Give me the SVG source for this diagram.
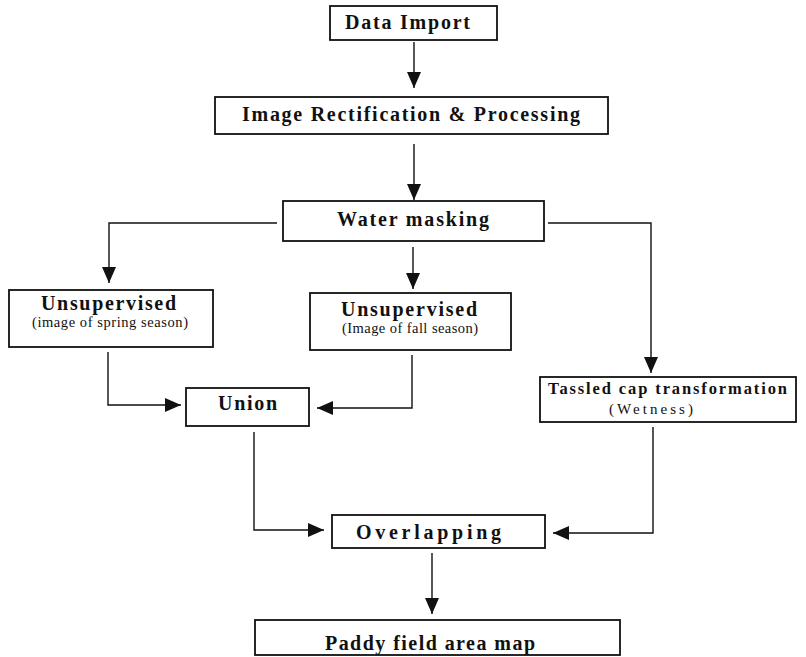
<svg xmlns="http://www.w3.org/2000/svg" width="806" height="657" viewBox="0 0 806 657">
  <style>
    .box { fill: #ffffff; stroke: #111111; stroke-width: 1.8; }
    .lbl { font-family: "Liberation Serif", "Times New Roman", serif; font-weight: bold; font-size: 20px; fill: #111111; }
    .sub { font-family: "Liberation Serif", "Times New Roman", serif; font-size: 14.5px; fill: #111111; }
    .link { fill: none; stroke: #111111; stroke-width: 1.4; marker-end: url(#head); }
  </style>
  <defs>
    <marker id="head" markerUnits="userSpaceOnUse" markerWidth="17" markerHeight="14" refX="16" refY="7" orient="auto">
      <path d="M0,0 L16,7 L0,14 z" fill="#111111"/>
    </marker>
  </defs>
  <rect width="806" height="657" fill="#ffffff"/>

  <g id="connectors">
    <path class="link" d="M414,42 V88"/>
    <path class="link" d="M414,144 V200"/>
    <path class="link" d="M277,223 H109 V283"/>
    <path class="link" d="M413,247 V289"/>
    <path class="link" d="M548,223 H651 V373"/>
    <path class="link" d="M108,352 V405 H181"/>
    <path class="link" d="M412,355 V408 H317"/>
    <path class="link" d="M254,432 V530 H324"/>
    <path class="link" d="M653,427 V533 H553"/>
    <path class="link" d="M432,553 V614"/>
  </g>

  <g id="data-import">
    <rect class="box" x="330" y="6" width="167" height="34"/>
    <text class="lbl" x="345" y="29" textLength="125" lengthAdjust="spacing">Data Import</text>
  </g>

  <g id="rectification">
    <rect class="box" x="215" y="97" width="393" height="37"/>
    <text class="lbl" x="242" y="121" textLength="338" lengthAdjust="spacing">Image Rectification &amp; Processing</text>
  </g>

  <g id="water-masking">
    <rect class="box" x="283" y="201" width="261" height="40"/>
    <text class="lbl" x="337" y="226" textLength="152" lengthAdjust="spacing">Water masking</text>
  </g>

  <g id="unsupervised-spring">
    <rect class="box" x="9" y="290" width="204" height="57"/>
    <text class="lbl" x="41" y="310" textLength="135" lengthAdjust="spacing">Unsupervised</text>
    <text class="sub" x="32" y="327" textLength="156" lengthAdjust="spacing">(image of spring season)</text>
  </g>

  <g id="unsupervised-fall">
    <rect class="box" x="310" y="293" width="201" height="57"/>
    <text class="lbl" x="341" y="316" textLength="136" lengthAdjust="spacing">Unsupervised</text>
    <text class="sub" x="342" y="333" textLength="136" lengthAdjust="spacing">(Image of fall season)</text>
  </g>

  <g id="tasseled-cap">
    <rect class="box" x="540" y="377" width="256" height="45"/>
    <text class="lbl" x="548" y="394" textLength="239" lengthAdjust="spacing" style="font-size:16.5px">Tassled cap transformation</text>
    <text class="sub" x="609" y="414" textLength="84" lengthAdjust="spacing" style="font-size:15px">(Wetness)</text>
  </g>

  <g id="union">
    <rect class="box" x="186" y="388" width="123" height="38"/>
    <text class="lbl" x="218" y="410" textLength="59" lengthAdjust="spacing">Union</text>
  </g>

  <g id="overlapping">
    <rect class="box" x="332" y="515" width="213" height="33"/>
    <text class="lbl" x="356" y="539" textLength="145" lengthAdjust="spacing">Overlapping</text>
  </g>

  <g id="paddy-map">
    <rect class="box" x="255" y="620" width="365" height="35"/>
    <text class="lbl" x="325" y="650" textLength="210" lengthAdjust="spacing">Paddy field area map</text>
  </g>
</svg>
